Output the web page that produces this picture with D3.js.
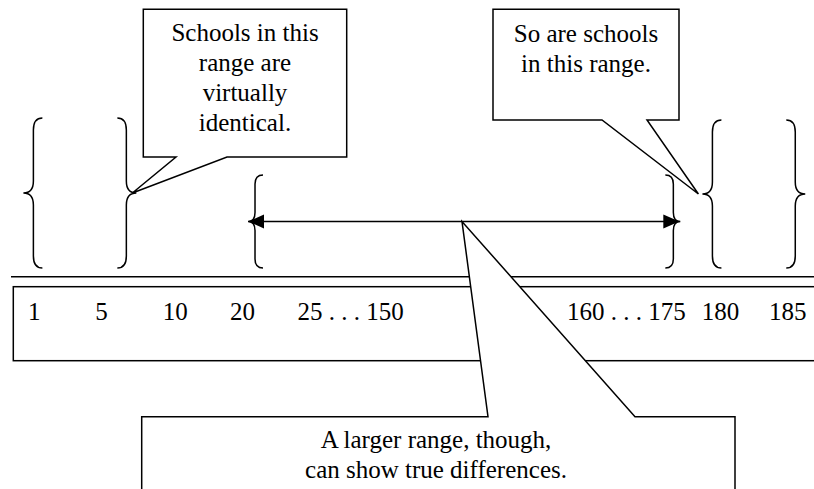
<!DOCTYPE html>
<html>
<head>
<meta charset="utf-8">
<script src="https://cdn.jsdelivr.net/npm/d3@7"></script>
<style>
  html, body { margin: 0; padding: 0; background: #fff; }
  svg { display: block; }
  text { font-family: "Liberation Serif", "Times New Roman", serif; fill: #000; }
</style>
</head>
<body>
<svg id="chart" width="814" height="489"></svg>
<script>
// ---- data ----
const tickLabels = ["1", "5", "10", "20", "25 . . . 150", "160 . . . 175", "180", "185"];
const tickSlots = [0, 1, 2, 3, 4, 8, 10, 11];           // tab-stop column of each label
const groupNames = ["top", "middle", "bottom"];
const groupFrom = [0.08, 3.37, 10.16];                  // brace opening, in columns
const groupTo = [1.46, 9.58, 11.39];                    // brace closing, in columns
const groupTall = [true, false, true];
const calloutLeft = ["Schools in this", "range are", "virtually", "identical."];
const calloutRight = ["So are schools", "in this range."];
const calloutBottom = ["A larger range, though,", "can show true differences."];

// ---- layout ----
const svg = d3.select("#chart");
const x = d3.scaleLinear().domain([0, 11]).range([28, 769]);
const y = d3.scaleLinear().domain([0, 1]).range([268, 118]); // brace height scale
const SW = 1.5;
const FS = 25;

function bracePath(bx, top, bottom, dir, w, r, t) {
  // dir = -1 -> "{" (tip points left), +1 -> "}"
  const mid = (top + bottom) / 2;
  const p = d3.path();
  p.moveTo(bx - dir * w, top);
  p.quadraticCurveTo(bx, top, bx, top + r);
  p.lineTo(bx, mid - r);
  p.quadraticCurveTo(bx, mid, bx + dir * t, mid);
  p.quadraticCurveTo(bx, mid, bx, mid + r);
  p.lineTo(bx, bottom - r);
  p.quadraticCurveTo(bx, bottom, bx - dir * w, bottom);
  return p.toString();
}

const braces = [];
groupNames.forEach((g, i) => {
  const tall = groupTall[i];
  const top = tall ? y(1) + (i === 2 ? 2 : 0) : y(0.62);
  const bottom = y(0);
  const w = tall ? 9 : 8, r = tall ? 12 : 9, t = tall ? 10 : 7;
  braces.push({ g, x: x(groupFrom[i]), top, bottom, dir: -1, w, r, t });
  braces.push({ g, x: x(groupTo[i]), top, bottom, dir: 1, w, r, t });
});

svg.append("g").selectAll("path").data(braces).join("path")
  .attr("d", d => bracePath(d.x, d.top, d.bottom, d.dir, d.w, d.r, d.t))
  .attr("fill", "none").attr("stroke", "#000").attr("stroke-width", SW);

// middle double-headed arrow
const midB = braces.filter(d => d.g === "middle");
const ay = (midB[0].top + midB[0].bottom) / 2;
const ax0 = midB[0].x - 7, ax1 = midB[1].x + 6;
svg.append("line").attr("x1", ax0 + 10).attr("x2", ax1 - 10).attr("y1", ay).attr("y2", ay)
  .attr("stroke", "#000").attr("stroke-width", SW);
const head = (tx, dir) => `M${tx},${ay} L${tx - dir * 16},${ay - 7} L${tx - dir * 16},${ay + 7} Z`;
svg.append("path").attr("d", head(ax0, -1)).attr("fill", "#000");
svg.append("path").attr("d", head(ax1, 1)).attr("fill", "#000");

// scale strip: double line + box
svg.append("line").attr("x1", 11).attr("x2", 814).attr("y1", 276.7).attr("y2", 276.7)
  .attr("stroke", "#000").attr("stroke-width", SW);
svg.append("rect").attr("x", 13.3).attr("y", 286.7).attr("width", 830).attr("height", 74)
  .attr("fill", "none").attr("stroke", "#000").attr("stroke-width", SW);

svg.append("g").selectAll("text").data(tickLabels).join("text")
  .attr("x", (d, i) => x(tickSlots[i]))
  .attr("y", 320)
  .attr("font-size", FS)
  .text(d => d);

// callouts
const topB = braces.filter(d => d.g === "top");
const botB = braces.filter(d => d.g === "bottom");
const tipL = [topB[1].x + topB[1].t - 4, (topB[1].top + topB[1].bottom) / 2];
const tipR = [botB[0].x - botB[0].t - 4, (botB[0].top + botB[0].bottom) / 2];
const tipB = [462, ay];

const callouts = [
  { d: `M143.3,9.3 H346.7 V157 H227 L${tipL[0]},${tipL[1]} L176,157 H143.3 Z`,
    lines: calloutLeft, cx: 245, y0: 40.5 },
  { d: `M493,9.3 H679 V120 H647 L${tipR[0]},${tipR[1]} L602,120 H493 Z`,
    lines: calloutRight, cx: 586, y0: 41.5 },
  { d: `M141.7,530 V416.7 H488 L${tipB[0]},${tipB[1]} L635,416.7 H735 V530`,
    lines: calloutBottom, cx: 436, y0: 448 }
];

const cg = svg.append("g").selectAll("g").data(callouts).join("g");
cg.append("path").attr("d", d => d.d)
  .attr("fill", "#fff").attr("stroke", "#000").attr("stroke-width", SW)
  .attr("stroke-linejoin", "miter");
cg.each(function (d) {
  d3.select(this).selectAll("text").data(d.lines).join("text")
    .attr("x", d.cx)
    .attr("y", (t, i) => d.y0 + i * 30)
    .attr("text-anchor", "middle")
    .attr("font-size", FS)
    .text(t => t);
});
</script>
</body>
</html>
